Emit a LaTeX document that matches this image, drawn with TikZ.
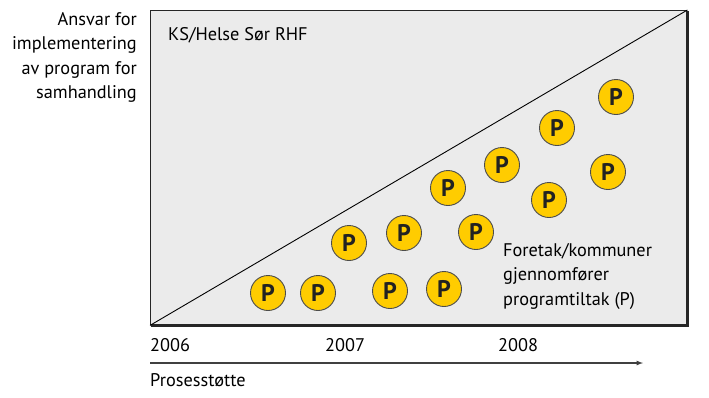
\documentclass[tikz,border=0pt]{standalone}
\usepackage{fontspec}
\setmainfont{PT Sans}
\usepackage{xcolor}
\definecolor{panelgray}{HTML}{EBEBEB}
\definecolor{pyellow}{HTML}{FFCC00}
\definecolor{pink}{HTML}{222222}

\begin{document}
\begin{tikzpicture}[
    x=1pt, y=-1pt,
    txt/.style={font=\fontsize{18.3}{24.5}\selectfont, inner sep=0pt},
    pcircle/.style={circle, draw=black!70, line width=0.9pt, fill=pyellow, minimum size=35pt, inner sep=0pt, font=\fontsize{24}{24}\selectfont\bfseries, text=pink},
    arrow/.style={-latex, line width=1.2pt, draw=black!75}
]
\useasboundingbox (0,0) rectangle (709,397);
% Panel
\node[draw=black!85, line width=1.4pt, fill=panelgray, minimum width=536pt, minimum height=314pt, inner sep=0pt, anchor=north west] (frame) at (150,10) {};
\draw[line width=2.2pt, black!85] ([xshift=1pt]frame.south west) -- ([yshift=0pt]frame.south east) -- ([yshift=-1pt]frame.north east);
\draw[line width=0.9pt] (frame.south west) -- (frame.north east);
% Side label
\node[txt, align=right, anchor=north east] (ansvar) at (137,12) {Ansvar for\\implementering\\av program for\\samhandling};
% Upper region label
\node[txt, anchor=west] (ks) at (168,35) {KS/Helse Sør RHF};
% Lower region label
\node[txt, align=left, anchor=north west] (foretak) at (503,243) {Foretak/kommuner\\gjennomfører\\programtiltak (P)};
% Programme measures
\node[pcircle] (p1) at (268,293) {P};
\node[pcircle] (p2) at (318,293) {P};
\node[pcircle] (p3) at (390,291) {P};
\node[pcircle] (p4) at (444,289) {P};
\node[pcircle] (p5) at (349,243) {P};
\node[pcircle] (p6) at (404,233) {P};
\node[pcircle] (p7) at (476,232) {P};
\node[pcircle] (p8) at (448,188) {P};
\node[pcircle] (p9) at (502,165) {P};
\node[pcircle] (p10) at (549,200) {P};
\node[pcircle] (p11) at (557,128) {P};
\node[pcircle] (p12) at (608,172) {P};
\node[pcircle] (p13) at (616,97) {P};
% Years
\node[txt, anchor=west] (y2006) at (150,345) {2006};
\node[txt, anchor=west] (y2007) at (325,345) {2007};
\node[txt, anchor=west] (y2008) at (498,345) {2008};
% Time axis
\coordinate (axstart) at (150,363);
\coordinate (axend) at (643,363);
\draw[arrow] (axstart) -- (axend);
\node[txt, anchor=west] (prosess) at (150,380) {Prosesstøtte};
\end{tikzpicture}
\end{document}
